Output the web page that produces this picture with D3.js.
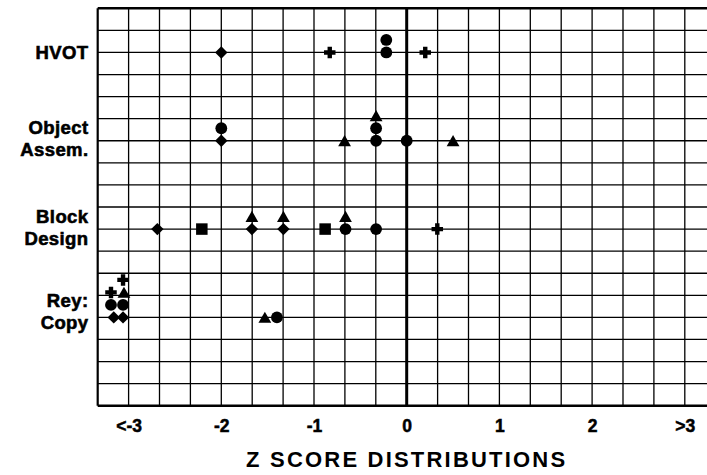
<!DOCTYPE html>
<html>
<head>
<meta charset="utf-8">
<script src="https://cdn.jsdelivr.net/npm/d3@7"></script>
<style>
  html, body { margin: 0; padding: 0; background: #fff; }
  svg { display: block; }
  text { font-family: "Liberation Sans", Arial, Helvetica, sans-serif; fill: #000; }
</style>
</head>
<body>
<svg id="chart" width="707" height="475"></svg>
<script>
// Test rows (grid row index on which each test's markers sit)
const tests = ["HVOT", "Object Assem.", "Block Design", "Rey: Copy"];
const testLabels = [["HVOT"], ["Object", "Assem."], ["Block", "Design"], ["Rey:", "Copy"]];
const testRows = [2, 6, 10, 14];

// Z-score axis labels
const tickValues = [-3, -2, -1, 0, 1, 2, 3];
const tickLabels = ["<-3", "-2", "-1", "0", "1", "2", ">3"];

// Scores per marker type: test, z score, stack level (markers piled on the same spot)
const diamonds = [
  { test: "HVOT", z: -2.0, stack: 0 },
  { test: "Object Assem.", z: -2.0, stack: 0 },
  { test: "Block Design", z: -2.69, stack: 0 },
  { test: "Block Design", z: -1.67, stack: 0 },
  { test: "Block Design", z: -1.33, stack: 0 },
  { test: "Rey: Copy", z: -3.16, stack: 0 },
  { test: "Rey: Copy", z: -3.06, stack: 0 }
];
const circles = [
  { test: "HVOT", z: -0.22, stack: 0 },
  { test: "HVOT", z: -0.22, stack: 1 },
  { test: "Object Assem.", z: -2.0, stack: 1 },
  { test: "Object Assem.", z: -0.33, stack: 0 },
  { test: "Object Assem.", z: -0.33, stack: 1 },
  { test: "Object Assem.", z: 0.0, stack: 0 },
  { test: "Block Design", z: -0.66, stack: 0 },
  { test: "Block Design", z: -0.33, stack: 0 },
  { test: "Rey: Copy", z: -3.19, stack: 1 },
  { test: "Rey: Copy", z: -3.06, stack: 1 },
  { test: "Rey: Copy", z: -1.40, stack: 0 }
];
const triangles = [
  { test: "Object Assem.", z: -0.67, stack: 0 },
  { test: "Object Assem.", z: -0.33, stack: 2 },
  { test: "Object Assem.", z: 0.50, stack: 0 },
  { test: "Block Design", z: -1.67, stack: 1 },
  { test: "Block Design", z: -1.33, stack: 1 },
  { test: "Block Design", z: -0.66, stack: 1 },
  { test: "Rey: Copy", z: -3.05, stack: 2 },
  { test: "Rey: Copy", z: -1.53, stack: 0 }
];
const squares = [
  { test: "Block Design", z: -2.21, stack: 0 },
  { test: "Block Design", z: -0.88, stack: 0 }
];
const crosses = [
  { test: "HVOT", z: -0.83, stack: 0 },
  { test: "HVOT", z: 0.20, stack: 0 },
  { test: "Block Design", z: 0.33, stack: 0 },
  { test: "Rey: Copy", z: -3.19, stack: 2 },
  { test: "Rey: Copy", z: -3.06, stack: 3 }
];

const svg = d3.select("#chart");
const W = 707, H = 475;

// z from -10/3 to +10/3, one grid column per third of a unit
const x = d3.scaleLinear().domain([-10 / 3, 10 / 3]).range([97.7, 715.7]);
const y = d3.scaleLinear().domain([0, 18]).range([8.3, 405.7]);
const rowOf = d3.scaleOrdinal().domain(tests).range(testRows);
const stackStep = 12.5;

// Grid
const grid = svg.append("g");
d3.range(0, 19).forEach(r => {
  grid.append("line")
    .attr("x1", x(-10 / 3)).attr("x2", W)
    .attr("y1", y(r)).attr("y2", y(r))
    .attr("stroke", "#000")
    .attr("stroke-width", (r === 0 || r === 18) ? 2.4 : 1.3);
});
d3.range(-10, 11).forEach(i => {
  const bold = i === 0 ? 3 : (i === -10 ? 2.2 : 1.3);
  grid.append("line")
    .attr("x1", x(i / 3)).attr("x2", x(i / 3))
    .attr("y1", y(0)).attr("y2", y(18))
    .attr("stroke", "#000")
    .attr("stroke-width", bold);
});

// Marker shapes
const shapes = {
  diamond: h => `M0,${-h}L${h},0L0,${h}L${-h},0Z`,
  circle: r => `M${-r},0A${r},${r} 0 1,0 ${r},0A${r},${r} 0 1,0 ${-r},0Z`,
  square: s => `M${-s / 2},${-s / 2}h${s}v${s}h${-s}Z`,
  triangle: s => `M0,${-s * 0.45}L${s / 2},${s * 0.42}L${-s / 2},${s * 0.42}Z`,
  cross: s => {
    const a = s / 2, t = 2.2;
    return `M${-t},${-a}H${t}V${-t}H${a}V${t}H${t}V${a}H${-t}V${t}H${-a}V${-t}H${-t}Z`;
  }
};
const series = [
  { pts: diamonds, path: shapes.diamond(6.2) },
  { pts: circles, path: shapes.circle(5.9) },
  { pts: triangles, path: shapes.triangle(12.8) },
  { pts: squares, path: shapes.square(11.5) },
  { pts: crosses, path: shapes.cross(11.5) }
];
const marks = svg.append("g");
series.forEach(s => {
  marks.selectAll(null).data(s.pts).enter().append("path")
    .attr("d", s.path)
    .attr("fill", "#000")
    .attr("transform", d => `translate(${x(d.z)},${y(rowOf(d.test)) - d.stack * stackStep})`);
});

// Test labels
const labelNudge = { "HVOT": 0, "Object Assem.": -2, "Block Design": -2, "Rey: Copy": -6 };
tests.forEach((t, i) => {
  const lines = testLabels[i];
  const cy = y(testRows[i]) + labelNudge[t];
  const txt = svg.append("text")
    .attr("x", 88.5)
    .attr("text-anchor", "end")
    .attr("font-weight", "bold")
    .attr("font-size", 18.5)
    .attr("letter-spacing", 0.4)
    .attr("stroke", "#000")
    .attr("stroke-width", 0.6);
  lines.forEach((ln, k) => {
    const base = cy + 6.5 + (k - (lines.length - 1) / 2) * 22;
    txt.append("tspan").attr("x", 88.5).attr("y", base).text(ln);
  });
});

// Z-score axis
const xAxis = d3.axisBottom(x)
  .tickValues(tickValues)
  .tickFormat((d, i) => tickLabels[i])
  .tickSize(0)
  .tickPadding(0);
const ax = svg.append("g").attr("transform", "translate(0,432)").call(xAxis);
ax.select(".domain").remove();
ax.selectAll("text")
  .attr("dy", 0).attr("y", 0)
  .attr("font-family", "Liberation Sans, Arial, sans-serif")
  .attr("font-weight", "bold")
  .attr("font-size", 17.5)
  .attr("fill", "#000")
  .attr("stroke", "#000")
  .attr("stroke-width", 0.5);

svg.append("text")
  .attr("x", x(0))
  .attr("y", 467)
  .attr("text-anchor", "middle")
  .attr("font-weight", "bold")
  .attr("font-size", 22)
  .attr("letter-spacing", 2.2)
  .text("Z SCORE DISTRIBUTIONS");
</script>
</body>
</html>
